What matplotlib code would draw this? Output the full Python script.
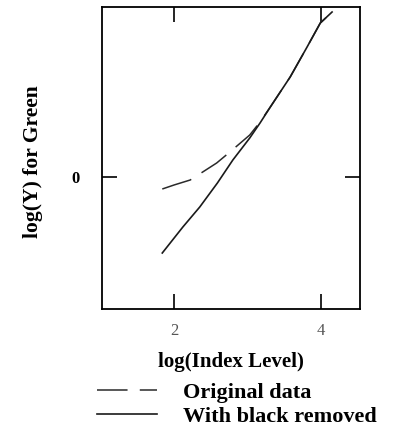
import matplotlib.pyplot as plt

# curves
x_orig = [1.84, 2.0, 2.22, 2.39, 2.58, 2.76, 3.03, 3.17, 3.31, 3.58, 3.81, 3.99, 4.15]
y_orig = [-0.12, -0.08, -0.03, 0.05, 0.14, 0.25, 0.42, 0.55, 0.70, 1.00, 1.30, 1.54, 1.65]
x_new = [1.84, 2.12, 2.35, 2.59, 2.80, 3.03, 3.17, 3.31, 3.58, 3.81, 3.99, 4.15]
y_new = [-0.76, -0.50, -0.30, -0.06, 0.17, 0.39, 0.54, 0.70, 1.00, 1.30, 1.54, 1.65]

plt.rcParams['font.family'] = 'Liberation Serif'
plt.rcParams['font.weight'] = 'bold'

W, H = 397, 429
fig = plt.figure(figsize=(W / 100, H / 100), dpi=100)
ax = fig.add_axes([102 / W, 1 - 309 / H, 258 / W, 302 / H])

ax.plot(x_orig, y_orig, color='#2a2a2a', lw=1.1, dashes=(20, 8), label='Original data')
ax.plot(x_new, y_new, color='#1a1a1a', lw=1.2, label='With black removed')

ax.set_xlim(1.02, 4.53)
ax.set_ylim(-1.32, 1.70)
ax.set_xticks([2, 4])
ax.set_yticks([0])
ax.tick_params(direction='in', top=True, right=True, length=11, width=1.2, labelsize=12)
ax.tick_params(axis='x', pad=10, labelcolor='#555555')
ax.tick_params(axis='y', pad=16)
for lab in ax.get_xticklabels():
    lab.set_fontweight('normal')
for s in ax.spines.values():
    s.set_linewidth(1.3)

ax.set_xlabel('log(Index Level)', fontsize=15, fontweight='bold', va='center')
ax.xaxis.set_label_coords(0.5, (309 - 362) / 302)
ax.set_ylabel('log(Y) for Green', fontsize=15.5, fontweight='bold', va='center')
ax.yaxis.set_label_coords((33 - 102) / 258, (309 - 162) / 302)

fig.legend(loc='upper left', bbox_to_anchor=(97 / W, 1 - 382 / H), frameon=False,
           fontsize=16, handlelength=2.7, handletextpad=1.15, labelspacing=0.16,
           borderaxespad=0, borderpad=0)

fig.savefig('out.png', dpi=100)
